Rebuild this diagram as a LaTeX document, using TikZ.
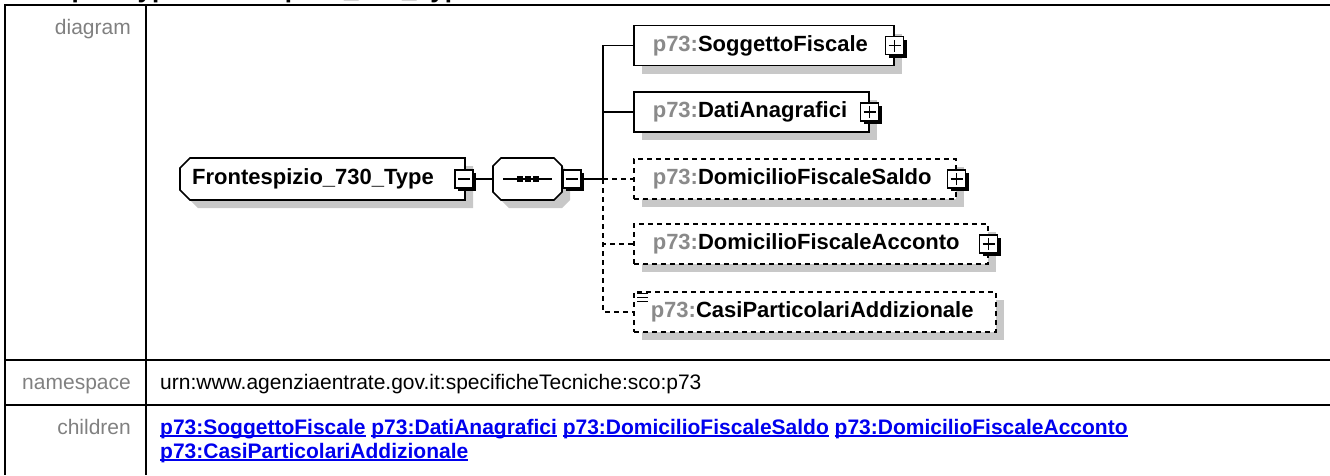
\documentclass[tikz,border=0pt]{standalone}
\usepackage{fontspec}
\setmainfont{Liberation Sans}
\usetikzlibrary{shadows}
\definecolor{shadowgray}{HTML}{C8C8C8}
\definecolor{prefixgray}{HTML}{8A8A8A}
\definecolor{labelgray}{HTML}{808080}
\definecolor{linkblue}{HTML}{0000EE}
\newcommand\mylink[1]{{\color{linkblue}\setbox0\hbox{#1}\rlap{\rule[-2.6pt]{\wd0}{1.6pt}}\box0}}
\newcommand\pfx{\textcolor{prefixgray}{p73:}}
\pgfdeclarelayer{back}
\pgfsetlayers{back,main}
\begin{document}
\begin{tikzpicture}[x=1pt,y=-1pt,
  tbl/.style={line width=2pt},
  lbl/.style={text=labelgray, font=\fontsize{21}{25}\selectfont, inner sep=0pt, anchor=base east},
  val/.style={font=\fontsize{21}{25}\selectfont, inner sep=0pt, anchor=base west},
  elem/.style={draw=black, line width=1.6pt, fill=white, rectangle, inner sep=0pt, minimum height=40pt, align=left, anchor=west, font=\fontsize{22}{26}\selectfont\bfseries, drop shadow={shadow xshift=8pt, shadow yshift=-8pt, fill=shadowgray, opacity=1}},
  opt/.style={dash pattern=on 5pt off 4pt},
  conn/.style={line width=1.6pt},
  expbox/.style={draw=black, line width=1.6pt, fill=white, minimum size=18pt, inner sep=0pt, drop shadow={shadow xshift=3pt, shadow yshift=-3pt, fill=black, opacity=1}},
  sign/.style={line width=1.6pt}
]
\useasboundingbox (0,0) rectangle (1330,475);
% title (mostly above the visible area)
\node[anchor=base west, inner sep=0pt, font=\fontsize{26}{30}\selectfont\bfseries] (title) at (18,-3) {complexType Frontespizio\_730\_Type};
% table
\draw[tbl] (4,5) -- (1330,5);
\draw[tbl] (4,360) -- (1330,360);
\draw[tbl] (4,405) -- (1330,405);
\draw[tbl] (5,4) -- (5,475);
\draw[tbl] (146,4) -- (146,475);
\node[lbl] (ldiag) at (131,34) {diagram};
\node[lbl] (lns) at (131,389) {namespace};
\node[lbl] (lch) at (131,434) {children};
\node[val] (ns) at (160,389) {urn:www.agenziaentrate.gov.it:specificheTecniche:sco:p73};
\node[val, font=\fontsize{21}{24}\selectfont\bfseries, align=left, anchor=base west] (ch) at (160,458) {\mylink{p73:SoggettoFiscale} \mylink{p73:DatiAnagrafici} \mylink{p73:DomicilioFiscaleSaldo} \mylink{p73:DomicilioFiscaleAcconto}\\\mylink{p73:CasiParticolariAddizionale}};

% root and sequence nodes (outlines on back layer)
\node[inner sep=0pt, minimum width=285pt, minimum height=42pt, text width=285pt, align=left, anchor=west, font=\fontsize{22}{26}\selectfont\bfseries] (root) at (180,179) {\hspace*{12pt}Frontespizio\_730\_Type};
\node[inner sep=0pt, minimum width=69pt, minimum height=42pt] (seq) at (527.5,179) {};
\begin{pgfonlayer}{back}
\fill[shadowgray] (198,166) -- (473,166) -- (473,208) -- (198,208) -- (188,198) -- (188,176) -- cycle;
\draw[line width=1.6pt, fill=white] (190,158) -- (465,158) -- (465,200) -- (190,200) -- (180,190) -- (180,168) -- cycle;
\fill[shadowgray] (509,166) -- (562,166) -- (570,174) -- (570,200) -- (562,208) -- (509,208) -- (501,200) -- (501,174) -- cycle;
\draw[line width=1.6pt, fill=white] (501,158) -- (554,158) -- (562,166) -- (562,192) -- (554,200) -- (501,200) -- (493,192) -- (493,166) -- cycle;
\end{pgfonlayer}
\draw[line width=1.6pt] (503,179) -- (552,179);
\fill (517,176) rectangle (523,182);
\fill (525,176) rectangle (531,182);
\fill (533,176) rectangle (539,182);

% child elements
\node[elem, text width=260pt] (sf) at (633,45.5) {\hspace*{19pt}\pfx SoggettoFiscale};
\node[elem, text width=235pt] (da) at (633,112) {\hspace*{19pt}\pfx DatiAnagrafici};
\node[elem, opt, text width=322pt] (ds) at (633,179) {\hspace*{19pt}\pfx DomicilioFiscaleSaldo};
\node[elem, opt, text width=354pt] (dac) at (633,244) {\hspace*{19pt}\pfx DomicilioFiscaleAcconto};
\node[elem, opt, text width=362pt] (cp) at (633,312) {\hspace*{17pt}\pfx CasiParticolariAddizionale};
\draw[line width=1.3pt] ([shift={(4,2)}]cp.north west) -- ++(11,0) ([shift={(4,6)}]cp.north west) -- ++(11,0) ([shift={(4,10)}]cp.north west) -- ++(11,0);

% expanders
\node[expbox] (rootx) at (464,179) {};
\draw[sign] ([xshift=-6pt]rootx.center) -- ([xshift=6pt]rootx.center);
\node[expbox] (seqx) at (572,179) {};
\draw[sign] ([xshift=-6pt]seqx.center) -- ([xshift=6pt]seqx.center);
\node[expbox] (sfx) at (sf.east) {};
\draw[sign] ([xshift=-6pt]sfx.center) -- ([xshift=6pt]sfx.center) ([yshift=-6pt]sfx.center) -- ([yshift=6pt]sfx.center);
\node[expbox] (dax) at (da.east) {};
\draw[sign] ([xshift=-6pt]dax.center) -- ([xshift=6pt]dax.center) ([yshift=-6pt]dax.center) -- ([yshift=6pt]dax.center);
\node[expbox] (dsx) at (ds.east) {};
\draw[sign] ([xshift=-6pt]dsx.center) -- ([xshift=6pt]dsx.center) ([yshift=-6pt]dsx.center) -- ([yshift=6pt]dsx.center);
\node[expbox] (dacx) at (dac.east) {};
\draw[sign] ([xshift=-6pt]dacx.center) -- ([xshift=6pt]dacx.center) ([yshift=-6pt]dacx.center) -- ([yshift=6pt]dacx.center);

% connectors
\coordinate (tk) at (603,179);
\draw[conn] (rootx.east) -- (seq.west);
\draw[conn] (seqx.east) -- (tk);
\draw[conn] (tk) |- (sf.west);
\draw[conn] (tk) |- (da.west);
\draw[conn, opt] (tk) -- (ds.west);
\draw[conn, opt] (tk) |- (dac.west);
\draw[conn, opt] (tk) |- (cp.west);
\end{tikzpicture}
\end{document}
